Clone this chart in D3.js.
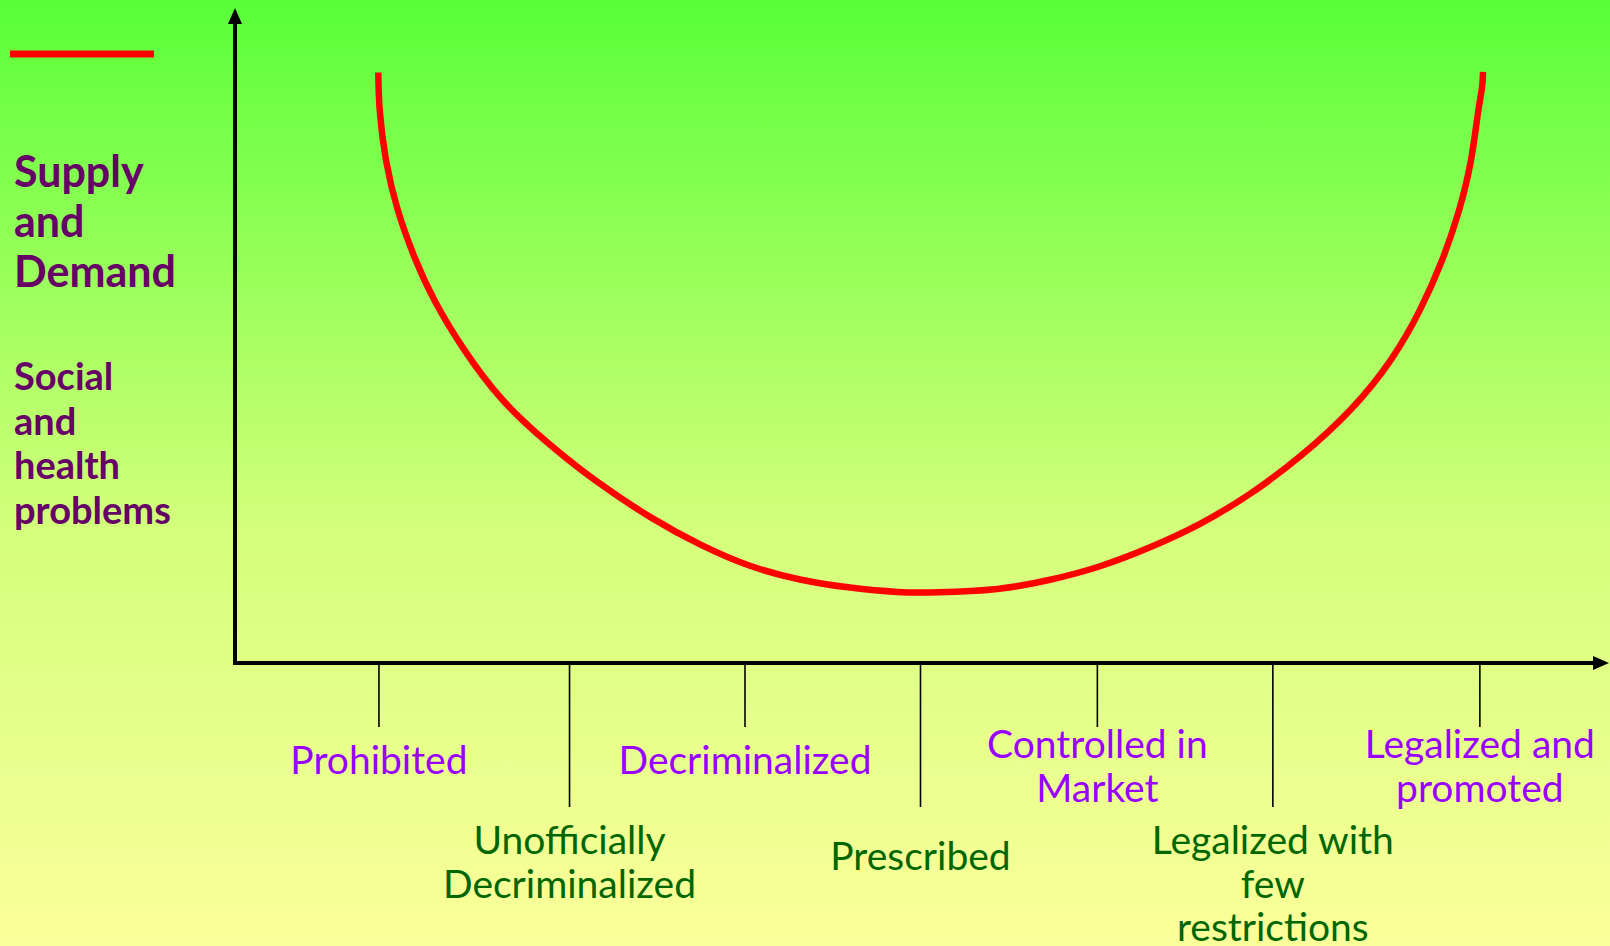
<!DOCTYPE html>
<html>
<head>
<meta charset="utf-8">
<script src="https://cdn.jsdelivr.net/npm/d3@7"></script>
<style>
  html, body { margin: 0; padding: 0; }
  #chart { width: 1610px; height: 946px; }
  text { font-family: "Comic Sans MS", "Lato", "Liberation Sans", sans-serif; }
</style>
</head>
<body>
<div id="chart"></div>
<script>
////////////////////////////  Data  ////////////////////////////
// stages along the horizontal axis (label lines), position on 0-100
const stageLines = [
  ["Prohibited"],
  ["Unofficially", "Decriminalized"],
  ["Decriminalized"],
  ["Prescribed"],
  ["Controlled in", "Market"],
  ["Legalized with", "few", "restrictions"],
  ["Legalized and", "promoted"],
];
const stagePos = [10.5, 24.4, 37.2, 50, 62.9, 75.7, 90.8];
const stageRow = [0, 1, 0, 1, 0, 1, 0];

// the red U curve (x: stage scale, y: problems level)
const curveX = [10.45, 10.5, 10.94, 11.79, 13.13, 14.45, 16.64, 19.34, 22.47, 26.11, 30.49,
  33.92, 37.56, 41.21, 44.86, 48.5, 50.91, 55.8, 59.45, 63.09, 66.74, 70.39,
  74.03, 77.68, 81.55, 84.43, 86.5, 88.11, 89.35, 90.23, 90.66, 91.0, 91.03];
const curveY = [90.7, 85.0, 77.3, 69.6, 61.9, 55.8, 48.1, 40.4, 34.3, 28.1, 22.0,
  18.1, 14.7, 12.7, 11.5, 10.8, 10.8, 11.2, 12.7, 14.7, 17.7, 21.2,
  25.8, 31.5, 38.9, 46.5, 54.2, 61.9, 69.6, 77.3, 84.9, 88.5, 90.8];

// side titles
const titleTop = ["Supply", "and", "Demand"];
const titleBottom = ["Social", "and", "health", "problems"];

////////////////////////////  Init  ////////////////////////////
const width = 1610;
const height = 946;

const svg = d3.select("#chart").append("svg")
  .attr("width", width)
  .attr("height", height);

// background gradient
const grad = svg.append("defs").append("linearGradient")
  .attr("id", "bg")
  .attr("x1", 0).attr("y1", 0).attr("x2", 0).attr("y2", 1);
grad.append("stop").attr("offset", "0%").attr("stop-color", "#59ff38");
grad.append("stop").attr("offset", "55%").attr("stop-color", "#d2ff7a");
grad.append("stop").attr("offset", "100%").attr("stop-color", "#fbff9b");

svg.append("rect")
  .attr("width", width)
  .attr("height", height)
  .attr("fill", "url(#bg)");

// scales
const x = d3.scaleLinear().domain([0, 100]).range([235, 1606]);
const y = d3.scaleLinear().domain([0, 100]).range([663, 12]);

//axes
svg.append("line")
  .attr("x1", x(0)).attr("y1", y(0))
  .attr("x2", x(0)).attr("y2", y(100) + 8)
  .attr("stroke", "#000").attr("stroke-width", 4)
  .attr("stroke-linecap", "square");
svg.append("line")
  .attr("x1", x(0)).attr("y1", y(0))
  .attr("x2", x(100) - 8).attr("y2", y(0))
  .attr("stroke", "#000").attr("stroke-width", 4)
  .attr("stroke-linecap", "square");

// arrow heads
svg.append("path")
  .attr("d", `M${x(0)},${y(100) - 4} L${x(0) - 7},${y(100) + 12} L${x(0) + 7},${y(100) + 12} Z`)
  .attr("fill", "#000");
svg.append("path")
  .attr("d", `M${x(100) + 3},${y(0)} L${x(100) - 13},${y(0) - 7} L${x(100) - 13},${y(0) + 7} Z`)
  .attr("fill", "#000");

// ticks
const tickLen = [64, 144];
svg.selectAll(".tick")
  .data(stagePos)
  .enter()
  .append("line")
  .attr("class", "tick")
  .attr("x1", (d) => x(d))
  .attr("x2", (d) => x(d))
  .attr("y1", y(0) + 2)
  .attr("y2", (d, i) => y(0) + tickLen[stageRow[i]])
  .attr("stroke", "#000")
  .attr("stroke-width", 1.6);

// stage labels
const rowColor = ["#9900ff", "#006600"];
const rowBase = [758, 854];
const labels = svg.selectAll(".stage")
  .data(stageLines)
  .enter()
  .append("text")
  .attr("class", "stage")
  .attr("text-anchor", "middle")
  .attr("font-size", 39)
  .attr("fill", (d, i) => rowColor[stageRow[i]])
  .attr("y", (d, i) => rowBase[stageRow[i]] + (d.length === 1 ? 16 : 0));

labels.each(function (d, i) {
  d3.select(this).selectAll("tspan")
    .data(d)
    .enter()
    .append("tspan")
    .attr("x", x(stagePos[i]))
    .attr("dy", (t, j) => (j === 0 ? 0 : 43.5))
    .text((t) => t);
});

//line
const line = d3.line()
  .x((d) => x(d[0]))
  .y((d) => y(d[1]))
  .curve(d3.curveBasis);

svg.append("path")
  .datum(curveX.map((d, i) => [d, curveY[i]]))
  .attr("d", line)
  .attr("fill", "none")
  .attr("stroke", "#ff0000")
  .attr("stroke-width", 6.5);

// legend swatch
svg.append("line")
  .attr("x1", 10).attr("x2", 154)
  .attr("y1", 54).attr("y2", 54)
  .attr("stroke", "#ff0000")
  .attr("stroke-width", 7);

// side titles
svg.append("text")
  .attr("x", 14)
  .attr("y", 187)
  .attr("font-size", 43)
  .attr("font-weight", "bold")
  .attr("fill", "#660066")
  .selectAll("tspan")
  .data(titleTop)
  .enter()
  .append("tspan")
  .attr("x", 14)
  .attr("dy", (d, i) => (i === 0 ? 0 : 50))
  .text((d) => d);

svg.append("text")
  .attr("x", 14)
  .attr("y", 390)
  .attr("font-size", 38)
  .attr("font-weight", "bold")
  .attr("fill", "#660066")
  .selectAll("tspan")
  .data(titleBottom)
  .enter()
  .append("tspan")
  .attr("x", 14)
  .attr("dy", (d, i) => (i === 0 ? 0 : 44.7))
  .text((d) => d);
</script>
</body>
</html>
